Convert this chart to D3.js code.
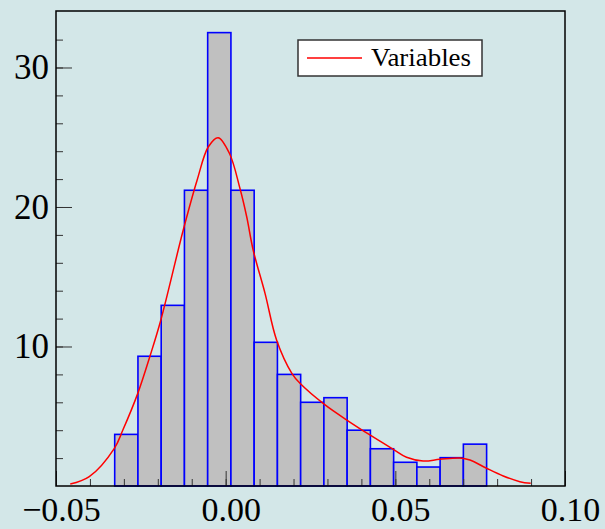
<!DOCTYPE html>
<html>
<head>
<meta charset="utf-8">
<script src="https://cdn.jsdelivr.net/npm/d3@7"></script>
<style>
  body { margin: 0; background: #d3e7e8; }
  svg { display: block; }
  .axis text { font-family: "Liberation Serif", "DejaVu Serif", serif; fill: #000; }
</style>
</head>
<body>
<div id="chart"></div>
<script>
// Histogram (density) values
const binEdges = [-0.0327, -0.02585, -0.0190, -0.01215, -0.0053, 0.00155, 0.0084, 0.01525,
                  0.0221, 0.02895, 0.0358, 0.04265, 0.0495, 0.05635, 0.0632, 0.07005, 0.0769];
const binValues = [3.7, 9.3, 12.95, 21.2, 32.5, 21.2, 10.3, 8.0, 6.0, 6.33, 4.0, 2.67, 1.7, 1.36, 2.03, 3.0];

// Density curve
const curveX = [-0.0458, -0.0402, -0.0328, -0.0303, -0.0259, -0.0222, -0.0191, -0.0125, -0.0084,
                -0.0051, -0.0022, 0.0011, 0.0042, 0.0062, 0.0081, 0.0116, 0.0150, 0.0195, 0.0219,
                0.0293, 0.0357, 0.0425, 0.0494, 0.0533, 0.0582, 0.0631, 0.0690, 0.0720, 0.0769,
                0.0818, 0.0867, 0.0899];
const curveY = [0.14, 0.67, 2.70, 4.01, 6.64, 9.39, 11.9, 18.35, 21.94,
                24.32, 24.97, 23.85, 21.34, 19.3, 16.92, 13.81, 10.47, 8.08, 7.36,
                5.81, 4.73, 3.66, 2.63, 2.06, 1.79, 1.91, 2.01, 1.86, 1.27,
                0.72, 0.31, 0.19];

const xMajor = [-0.05, 0.00, 0.05, 0.10];
const xMinor = d3.range(-5, 11).map(d => d / 100);
const yMajor = [10, 20, 30];
const yMinor = d3.range(2, 34, 2);
const legendLabel = 'Variables';

const width = 605, height = 529;
const margin = {top: 11, right: 40, bottom: 43, left: 56};

const x = d3.scaleLinear().domain([-0.05, 0.10]).range([margin.left, width - margin.right]);
const y = d3.scaleLinear().domain([0, 34.05]).range([height - margin.bottom, margin.top]);

const svg = d3.select('#chart')
    .append('svg')
    .attr('width', width)
    .attr('height', height);

svg.append('rect')
    .attr('width', width)
    .attr('height', height)
    .attr('fill', '#d3e7e8');

// Histogram bars
const bins = binValues.map((v, i) => ({x0: binEdges[i], x1: binEdges[i + 1], v: v}));
svg.append('g')
    .selectAll('rect')
    .data(bins)
    .join('rect')
    .attr('x', d => x(d.x0))
    .attr('y', d => y(d.v))
    .attr('width', d => x(d.x1) - x(d.x0))
    .attr('height', d => y(0) - y(d.v))
    .attr('fill', '#c0c0c0')
    .attr('stroke', '#0000ff')
    .attr('stroke-width', 1.6);

// Density curve
const line = d3.line()
    .x(d => x(d[0]))
    .y(d => y(d[1]))
    .curve(d3.curveCatmullRom);

svg.append('path')
    .datum(curveX.map((v, i) => [v, curveY[i]]))
    .attr('d', line)
    .attr('fill', 'none')
    .attr('stroke', '#ff0000')
    .attr('stroke-width', 1.5);

// Minor ticks
svg.append('g')
    .attr('transform', `translate(${margin.left},0)`)
    .call(d3.axisLeft(y).tickValues(yMinor).tickSize(-7).tickFormat(''))
    .call(g => g.select('.domain').remove())
    .selectAll('line').attr('stroke', '#333');

svg.append('g')
    .attr('transform', `translate(0,${y(0)})`)
    .call(d3.axisBottom(x).tickValues(xMinor).tickSize(-7).tickFormat(''))
    .call(g => g.select('.domain').remove())
    .selectAll('line').attr('stroke', '#333');

// Major ticks + labels
svg.append('g')
    .attr('class', 'axis')
    .attr('transform', `translate(${margin.left},0)`)
    .call(d3.axisLeft(y).tickValues(yMajor).tickSize(-16).tickPadding(7).tickFormat(d3.format('d')))
    .call(g => g.select('.domain').remove())
    .call(g => g.selectAll('line').attr('stroke', '#333'))
    .call(g => g.selectAll('text').attr('font-size', 35));

svg.append('g')
    .attr('class', 'axis')
    .attr('transform', `translate(0,${y(0)})`)
    .call(d3.axisBottom(x).tickValues(xMajor).tickSize(-15).tickPadding(11).tickFormat(d3.format('.2f')))
    .call(g => g.select('.domain').remove())
    .call(g => g.selectAll('line').attr('stroke', '#333'))
    .call(g => g.selectAll('text').attr('font-size', 34).attr('dx', 5));

// Frame
svg.append('rect')
    .attr('x', margin.left)
    .attr('y', margin.top)
    .attr('width', width - margin.left - margin.right)
    .attr('height', height - margin.top - margin.bottom)
    .attr('fill', 'none')
    .attr('stroke', '#000')
    .attr('stroke-width', 1.5);

// Legend
const lg = svg.append('g').attr('transform', 'translate(298,40)');
lg.append('rect')
    .attr('width', 184)
    .attr('height', 36)
    .attr('fill', '#fff')
    .attr('stroke', '#333')
    .attr('stroke-width', 1.5);
lg.append('line')
    .attr('x1', 9).attr('x2', 64)
    .attr('y1', 18).attr('y2', 18)
    .attr('stroke', '#ff0000')
    .attr('stroke-width', 1.5);
lg.append('text')
    .attr('x', 73)
    .attr('y', 26)
    .attr('font-family', '"Liberation Serif", "DejaVu Serif", serif')
    .attr('font-size', 25)
    .attr('textLength', 100)
    .attr('lengthAdjust', 'spacingAndGlyphs')
    .text(legendLabel);
</script>
</body>
</html>
